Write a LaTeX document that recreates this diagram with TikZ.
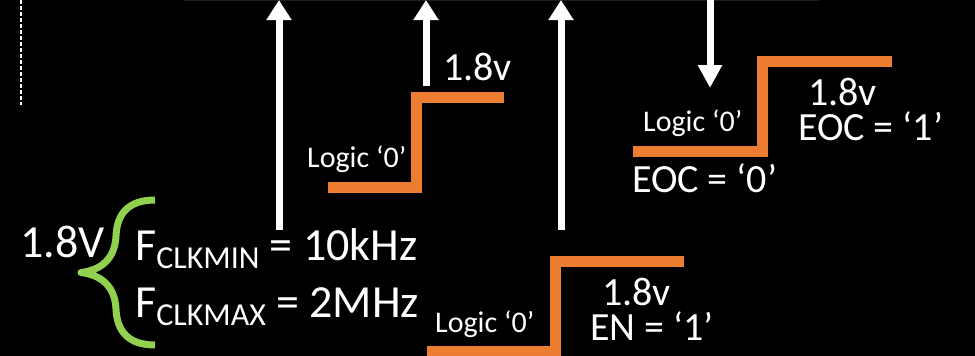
\documentclass[tikz,border=0pt]{standalone}
\usepackage{fontspec}
\setmainfont{Carlito}
\usetikzlibrary{arrows.meta}

\definecolor{stepcol}{HTML}{ED7D31}
\definecolor{bracecol}{HTML}{92D050}
\newcommand{\clksub}[1]{\raisebox{-8pt}{\fontsize{32}{32}\selectfont #1}}

\begin{document}
\begin{tikzpicture}[x=1pt,y=-1pt,
  stepline/.style={draw=stepcol,line width=11pt},
  sigarrow/.style={draw=white,line width=7pt,-{Triangle[width=24pt,length=20pt]}},
  txt/.style={text=white,anchor=base west,inner sep=0pt},
  lbltext/.style={txt,font=\fontsize{30}{32}\selectfont},
  volttext/.style={txt,font=\fontsize{40}{42}\selectfont},
  freqtext/.style={txt,font=\fontsize{46}{48}\selectfont}]
\fill[black] (0,0) rectangle (975,356);
\useasboundingbox (0,0) rectangle (975,356);
\draw[black!88!white,line width=1pt] (184,0.5) -- (819,0.5);
\draw[white,line width=1.3pt,dash pattern=on 4pt off 2pt] (21,0) -- (21,105);

% arrows
\coordinate (a1s) at (279,230);
\coordinate (a1e) at (279,0);
\coordinate (a2s) at (426,86);
\coordinate (a2e) at (426,0);
\coordinate (a3s) at (561,230);
\coordinate (a3e) at (561,0);
\coordinate (a4s) at (710,0);
\coordinate (a4e) at (710,88);
\draw[sigarrow] (a1s) -- (a1e);
\draw[sigarrow] (a2s) -- (a2e);
\draw[sigarrow] (a3s) -- (a3e);
\draw[sigarrow,-{Triangle[width=23pt,length=23pt]}] (a4s) -- (a4e);

% steps
\draw[stepline] (328,187.5) -- (416.5,187.5) -- (416.5,97.5) -- (504,97.5);
\draw[stepline] (427,351) -- (555,351) -- (555,261) -- (684,261);
\draw[stepline] (633,151.5) -- (762.5,151.5) -- (762.5,61) -- (892,61);

% brace
\draw[bracecol,line width=7pt,line join=round] (155,200) .. controls (128,200) and (117,214) .. (116,236)
  .. controls (115,258) and (102,270) .. (81,272.5)
  .. controls (102,275) and (115,287) .. (116,309)
  .. controls (117,331) and (128,345) .. (155,345);

\node[freqtext] (volt) at (20,257) {1.8V};
\node[freqtext] (fmin) at (135,260) {F\clksub{CLKMIN} = 10kHz};
\node[freqtext] (fmax) at (135,317) {F\clksub{CLKMAX} = 2MHz};

\node[lbltext] (lo1) at (307,167) {Logic ‘0’};
\node[volttext] (hi1) at (443,80) {1.8v};
\node[lbltext] (lo2) at (435,332) {Logic ‘0’};
\node[volttext] (hi2) at (602,305) {1.8v};
\node[volttext] (en) at (590,340) {EN = ‘1’};
\node[lbltext] (lo3) at (643,131) {Logic ‘0’};
\node[volttext] (hi3) at (808,105) {1.8v};
\node[volttext] (eoc1) at (798,140) {EOC = ‘1’};
\node[volttext] (eoc0) at (632,192) {EOC = ‘0’};
\end{tikzpicture}
\end{document}
